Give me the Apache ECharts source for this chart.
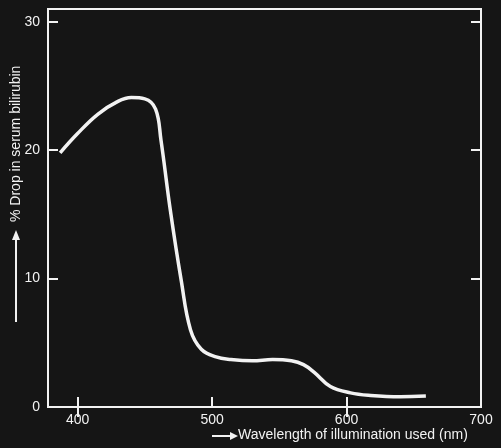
<!DOCTYPE html>
<html>
<head>
<meta charset="utf-8">
<script src="https://cdn.jsdelivr.net/npm/echarts@6/dist/echarts.min.js"></script>
<style>html,body{margin:0;background:#151515}#c{width:501px;height:448px}</style>
</head>
<body>
<div id="c"></div>
<script>
// Wavelength (nm) vs % drop in serum bilirubin
var wavelengths = [387, 400, 415, 430, 440, 450, 458, 462, 469, 477, 484, 492, 503, 514, 530, 545, 559, 568, 576, 588, 603, 618, 640, 659];
var drops = [19.8, 21.3, 22.8, 23.8, 24.1, 24.0, 23.2, 20.8, 15.3, 9.9, 6.0, 4.5, 3.9, 3.7, 3.6, 3.7, 3.6, 3.3, 2.7, 1.6, 1.1, 0.9, 0.8, 0.85];
var xTicks = [400, 500, 600, 700];
var xTopTicks = [400, 600];
var yTicks = [0, 10, 20, 30];

var chart = echarts.init(document.getElementById("c"));
var pts = wavelengths.map(function (w, i) { return [w, drops[i]]; });
var fg = "#f2f2f2";
var tick = { show: true, inside: true, length: 10, lineStyle: { color: fg, width: 2 } };

chart.setOption({
    backgroundColor: "#151515",
    animation: false,
    grid: { left: 48, right: 20, top: 9, bottom: 41, show: true, borderColor: fg, borderWidth: 2 },
    xAxis: [{
        type: "value", min: 378, max: 700,
        axisLine: { show: false },
        axisTick: Object.assign({ customValues: xTicks }, tick),
        axisLabel: { color: fg, fontSize: 14, fontFamily: "Liberation Sans", margin: 6,
            customValues: xTicks },
        splitLine: { show: false }
    }, {
        type: "value", min: 378, max: 700, position: "top",
        axisLine: { show: false },
        axisTick: Object.assign({ customValues: xTopTicks }, tick),
        axisLabel: { show: false },
        splitLine: { show: false }
    }],
    yAxis: [{
        type: "value", min: 0, max: 31,
        axisLine: { show: false },
        axisTick: Object.assign({ customValues: yTicks }, tick),
        axisLabel: { color: fg, fontSize: 14, fontFamily: "Liberation Sans", margin: 8,
            customValues: yTicks },
        splitLine: { show: false }
    }, {
        type: "value", min: 0, max: 31, position: "right",
        axisLine: { show: false },
        axisTick: Object.assign({ customValues: yTicks }, tick),
        axisLabel: { show: false },
        splitLine: { show: false }
    }],
    series: [{
        type: "line", data: pts, smooth: 0.4, symbol: "none",
        lineStyle: { color: fg, width: 3.5 }
    }],
    graphic: [
        { type: "line", shape: { x1: 212, y1: 436, x2: 230, y2: 436 }, style: { stroke: fg, lineWidth: 2 } },
        { type: "polygon", shape: { points: [[230, 432], [238, 436], [230, 440]] }, style: { fill: fg } },
        { type: "text", left: 238, top: 428, style: { text: "Wavelength of illumination used (nm)", fill: fg, fontSize: 14, fontFamily: "Liberation Sans" } },
        { type: "line", shape: { x1: 16, y1: 322, x2: 16, y2: 240 }, style: { stroke: fg, lineWidth: 2 } },
        { type: "polygon", shape: { points: [[12, 240], [16, 230], [20, 240]] }, style: { fill: fg } },
        { type: "text", x: 16, y: 222, rotation: Math.PI / 2, style: { text: "% Drop in serum bilirubin", fill: fg, fontSize: 14, fontFamily: "Liberation Sans", align: "left", verticalAlign: "middle" } }
    ]
});
</script>
</body>
</html>
